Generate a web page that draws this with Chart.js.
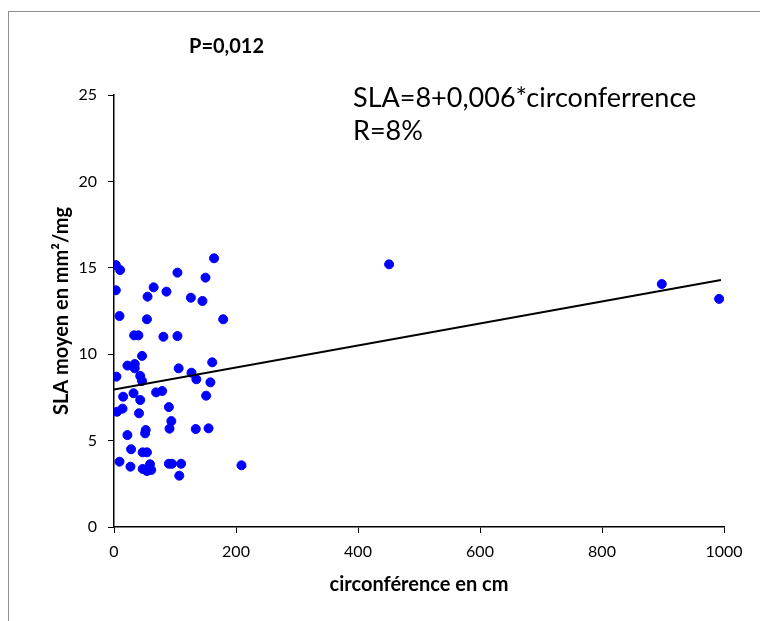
<!DOCTYPE html>
<html>
<head>
<meta charset="utf-8">
<script src="https://cdn.jsdelivr.net/npm/chart.js@4.4.1/dist/chart.umd.min.js"></script>
<style>
    html, body { margin: 0; padding: 0; background: #fff; overflow: hidden; }
    #wrap { position: relative; width: 760px; height: 621px; }
    #frame { position: absolute; left: 8px; top: 11px; width: 800px; height: 700px; border: 1.5px solid #8e8e8e; box-sizing: border-box; }
    canvas { position: absolute; left: 0; top: 0; }
    .note { position: absolute; font-family: Lato, "Open Sans", sans-serif; color: #000; white-space: nowrap; }
    #pval { left: 189px; top: 33px; font-size: 20px; font-weight: bold; }
    #eq { left: 353px; top: 80px; font-size: 27px; line-height: 33px; }
</style>
</head>
<body>
<div id="wrap">
    <div id="frame"></div>
    <canvas id="slaChart" width="760" height="621"></canvas>
    <div class="note" id="pval">P=0,012</div>
    <div class="note" id="eq">SLA=8+0,006*circonferrence<br>R=8%</div>
</div>
<script>
// circumference (cm) and mean SLA (mm²/mg)
const circ = [3, 10, 164, 104, 150, 3, 65, 55, 86, 126, 145, 9, 54, 179, 33, 40, 81, 104,
    46, 22, 34, 34, 106, 161, 4, 43, 46, 127, 135, 158, 15, 32, 43, 69, 79, 151,
    5, 14, 41, 90, 94, 91, 52, 51, 134, 155, 22, 28, 47, 54, 9, 27, 47, 59, 61, 54,
    90, 95, 110, 107, 209, 451, 898, 992];
const sla = [15.16, 14.87, 15.55, 14.72, 14.43, 13.7, 13.87, 13.33, 13.62, 13.27, 13.08, 12.21, 12.02, 12.02, 11.09, 11.09, 11.01, 11.05,
    9.9, 9.34, 9.43, 9.18, 9.18, 9.53, 8.7, 8.74, 8.45, 8.93, 8.55, 8.37, 7.54, 7.74, 7.35, 7.79, 7.87, 7.6,
    6.67, 6.85, 6.58, 6.94, 6.13, 5.69, 5.61, 5.42, 5.67, 5.71, 5.32, 4.5, 4.32, 4.32, 3.78, 3.49, 3.36, 3.63, 3.3, 3.24,
    3.66, 3.66, 3.66, 2.97, 3.57, 15.2, 14.06, 13.2];

// regression line end points
const trendX = [0, 995];
const trendY = [7.95, 14.3];

const xTicks = [0, 200, 400, 600, 800, 1000];
const yTicks = [0, 5, 10, 15, 20, 25];

const points = circ.map((c, i) => ({ x: c, y: sla[i] }));
const trend = trendX.map((x, i) => ({ x: x, y: trendY[i] }));

const tickFont = { family: 'Lato, "Open Sans", sans-serif', size: 16 };
const titleFont = { family: 'Lato, "Open Sans", sans-serif', size: 20, weight: 'bold' };

new Chart(document.getElementById('slaChart'), {
    type: 'scatter',
    data: {
        datasets: [
            {
                data: points,
                backgroundColor: '#0000ff',
                borderColor: '#0000ff',
                pointRadius: 4.5,
                pointHoverRadius: 4.5,
                order: 2
            },
            {
                type: 'line',
                data: trend,
                borderColor: '#000',
                borderWidth: 2,
                pointRadius: 0,
                fill: false,
                order: 1
            }
        ]
    },
    options: {
        responsive: false,
        animation: false,
        events: [],
        layout: { padding: { left: 50, right: 36, top: 95, bottom: 24 } },
        plugins: { legend: { display: false }, tooltip: { enabled: false } },
        scales: {
            x: {
                type: 'linear',
                min: 0,
                max: 1000,
                afterBuildTicks: (scale) => { scale.ticks = xTicks.map(v => ({ value: v })); },
                afterFit: (scale) => { scale.height = 70; },
                border: { display: true, color: '#000', width: 1.5 },
                grid: { drawOnChartArea: false, drawTicks: true, tickLength: 6, tickColor: '#000' },
                ticks: { color: '#000', font: tickFont, padding: 9, callback: (v) => String(v) },
                title: { display: true, text: 'circonférence en cm', color: '#000', font: titleFont, padding: { top: 4, bottom: 0 } }
            },
            y: {
                min: 0,
                max: 25,
                afterBuildTicks: (scale) => { scale.ticks = yTicks.map(v => ({ value: v })); },
                afterFit: (scale) => { scale.width = 64; },
                border: { display: true, color: '#000', width: 1.5 },
                grid: { drawOnChartArea: false, drawTicks: true, tickLength: 6, tickColor: '#000' },
                ticks: { color: '#000', font: tickFont, padding: 11, callback: (v) => String(v) },
                title: { display: true, text: 'SLA moyen en mm²/mg', color: '#000', font: titleFont, padding: { top: 0, bottom: 0 } }
            }
        }
    }
});
</script>
</body>
</html>
